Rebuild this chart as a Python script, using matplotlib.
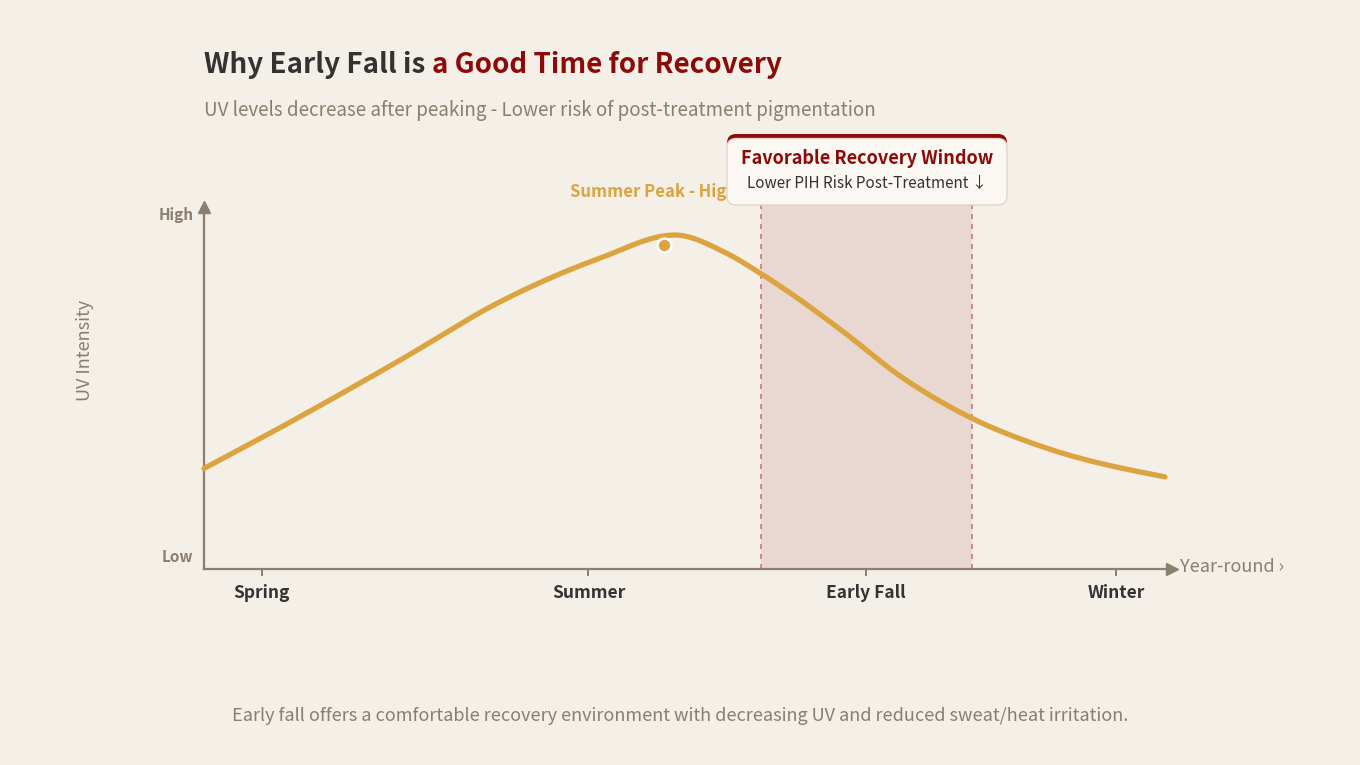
import numpy as np
import matplotlib
matplotlib.use("Agg")
import matplotlib.pyplot as plt
from matplotlib.patches import FancyBboxPatch

plt.rcParams['font.family'] = ['Noto Sans CJK KR', 'DejaVu Sans']

# data (x: position through the year 0-100, y: UV intensity 0-100)
curve_x = [0, 10.0, 20.4, 30.8, 41.2, 49.0, 54.1, 58.0, 66.5, 72.1, 79.8, 87.6, 100]
curve_y = [27.4, 41.5, 56.9, 72.8, 84.7, 91.0, 86.4, 80.4, 64.7, 53.2, 41.2, 33.0, 25.1]
peak_x, peak_y = 47.9, 88.3
season_labels = ['Spring', 'Summer', 'Early Fall', 'Winter']
season_pos = [6.0, 40.0, 68.9, 94.9]
window_start, window_end = 58.0, 79.9

BG = '#f4efe7'
GOLD = '#dba440'
DARKRED = '#8b0a0a'
AXIS = '#8b7f6f'
GREY_TXT = '#8a7e6e'
DARK_TXT = '#333333'


def smooth(xs, ys, n=30):
    # monotone cubic (like d3 curveMonotoneX), only used to draw the line
    xs, ys = np.asarray(xs, float), np.asarray(ys, float)
    h = np.diff(xs)
    s = np.diff(ys) / h
    m = np.zeros_like(ys)
    for i in range(1, len(xs) - 1):
        p = (s[i - 1] * h[i] + s[i] * h[i - 1]) / (h[i - 1] + h[i])
        m[i] = (np.sign(s[i - 1]) + np.sign(s[i])) * min(abs(s[i - 1]), abs(s[i]), 0.5 * abs(p))
    m[0] = (3 * s[0] - m[1]) / 2
    m[-1] = (3 * s[-1] - m[-2]) / 2
    ox, oy = [], []
    t = np.linspace(0, 1, n, endpoint=False)
    h00 = 2 * t ** 3 - 3 * t ** 2 + 1
    h10 = t ** 3 - 2 * t ** 2 + t
    h01 = -2 * t ** 3 + 3 * t ** 2
    h11 = t ** 3 - t ** 2
    for i in range(len(xs) - 1):
        ox.extend(xs[i] + t * h[i])
        oy.extend(h00 * ys[i] + h10 * h[i] * m[i] + h01 * ys[i + 1] + h11 * h[i] * m[i + 1])
    ox.append(xs[-1]); oy.append(ys[-1])
    return ox, oy


fig = plt.figure(figsize=(13.6, 7.65), dpi=100, facecolor=BG)

# plot area
ax = fig.add_axes([204 / 1360, (765 - 569) / 765, 961 / 1360, 367 / 765])
ax.set_xlim(0, 100)
ax.set_ylim(0, 100)
ax.axis('off')

ax.axvspan(window_start, window_end, color='#e8d8d1', zorder=1, lw=0)
for xv in (window_start, window_end):
    ax.plot([xv, xv], [0, 100], color='#c97a80', lw=1.2, ls=(0, (3, 3)), zorder=2)

sx, sy = smooth(curve_x, curve_y)
ax.plot(sx, sy, color=GOLD, lw=3.8, solid_capstyle='round', zorder=4, clip_on=False)
ax.plot([peak_x], [peak_y], 'o', color=GOLD, ms=10, mec='white', mew=1.8, zorder=5, clip_on=False)

# axes with arrows
ax.plot([0, 100], [0, 0], color=AXIS, lw=1.6, zorder=3, clip_on=False)
ax.plot([0, 0], [0, 97.5], color=AXIS, lw=1.6, zorder=3, clip_on=False)
ax.plot([100.7], [0], marker='>', color=AXIS, ms=8, clip_on=False, zorder=3)
ax.plot([0], [98.6], marker='^', color=AXIS, ms=8, clip_on=False, zorder=3)
for p, lab in zip(season_pos, season_labels):
    ax.plot([p, p], [0, -1.6], color=AXIS, lw=1.4, clip_on=False, zorder=3)
    ax.text(p, -6.5, lab, ha='center', va='center', fontsize=12.5, fontweight='bold', color=DARK_TXT)
ax.text(-1.1, 96.5, 'High', ha='right', va='center', fontsize=11, fontweight='bold', color=GREY_TXT)
ax.text(-1.1, 3.3, 'Low', ha='right', va='center', fontsize=11, fontweight='bold', color=GREY_TXT)

# overlay in pixel coordinates for text and the callout box
ov = fig.add_axes([0, 0, 1, 1], facecolor='none')
ov.set_xlim(0, 1360)
ov.set_ylim(765, 0)
ov.axis('off')

t1 = ov.text(204, 65, 'Why Early Fall is ', ha='left', va='center', fontsize=20,
             fontweight='bold', color=DARK_TXT)
fig.canvas.draw()
bb = t1.get_window_extent()
ov.text(bb.x1, 65, 'a Good Time for Recovery', ha='left', va='center', fontsize=20,
        fontweight='bold', color=DARKRED, transform=matplotlib.transforms.blended_transform_factory(
            matplotlib.transforms.IdentityTransform(), ov.transData))

ov.text(204, 110, 'UV levels decrease after peaking - Lower risk of post-treatment pigmentation',
        ha='left', va='center', fontsize=13.5, color=GREY_TXT)

ov.text(85, 350, 'UV Intensity', rotation=90, ha='center', va='center', fontsize=13,
        fontweight='medium', color=GREY_TXT)
ov.text(1180, 567, 'Year-round \u203a', ha='left', va='center', fontsize=13, color=GREY_TXT)

ov.text(570, 192, 'Summer Peak - High UV', ha='left', va='center', fontsize=12,
        fontweight='bold', color=GOLD, zorder=3)

top = FancyBboxPatch((727, 134), 280, 40, boxstyle='round,pad=0,rounding_size=9',
                     fc=DARKRED, ec='none', zorder=5)
box = FancyBboxPatch((727, 138.5), 280, 66.5, boxstyle='round,pad=0,rounding_size=9',
                     fc='#fbf7f3', ec='#e2d5c6', lw=1.0, zorder=6)
ov.add_patch(top)
ov.add_patch(box)
ov.text(867, 158, 'Favorable Recovery Window', ha='center', va='center', fontsize=13,
        fontweight='bold', color=DARKRED, zorder=7)
ov.text(867, 183, 'Lower PIH Risk Post-Treatment \u2193', ha='center', va='center', fontsize=11,
        fontweight='medium', color=DARK_TXT, zorder=7)

ov.text(680, 716, 'Early fall offers a comfortable recovery environment with decreasing UV and reduced sweat/heat irritation.',
        ha='center', va='center', fontsize=13, color=GREY_TXT)

fig.savefig('out.png', dpi=100, facecolor=BG)
